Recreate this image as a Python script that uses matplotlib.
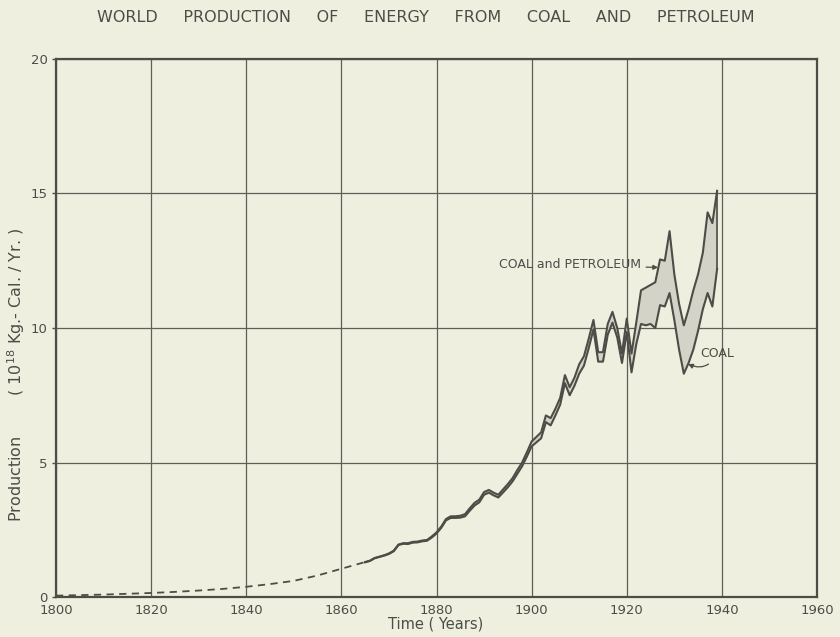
import numpy as np
import matplotlib
matplotlib.use("Agg")
import matplotlib.pyplot as plt

# Early estimates (dashed): combined production, 10^18 kg-cal per year
early_years = [1800, 1805, 1810, 1815, 1820, 1825, 1830, 1835, 1840, 1845,
               1850, 1855, 1860, 1865]
early_prod = [0.05, 0.07, 0.09, 0.12, 0.15, 0.19, 0.24, 0.30, 0.38, 0.48,
              0.60, 0.80, 1.05, 1.30]

# Annual record 1865-1939
years = list(range(1865, 1940))
coal_and_petroleum = [
    1.30, 1.35, 1.45, 1.50, 1.55, 1.62, 1.72, 1.95, 2.00, 2.00,   # 1865-1874
    2.05, 2.06, 2.10, 2.12, 2.25, 2.40, 2.62, 2.90, 3.00, 3.00,   # 1875-1884
    3.02, 3.08, 3.30, 3.50, 3.62, 3.90, 3.98, 3.88, 3.80, 4.00,   # 1885-1894
    4.20, 4.42, 4.72, 5.00, 5.38, 5.78, 5.95, 6.12, 6.75, 6.65,   # 1895-1904
    7.00, 7.40, 8.25, 7.80, 8.15, 8.65, 8.95, 9.60, 10.30, 9.10,  # 1905-1914
    9.10, 10.15, 10.60, 10.00, 9.05, 10.35, 9.05, 10.20, 11.40, 11.50,  # 1915-1924
    11.60, 11.70, 12.55, 12.50, 13.60, 12.00, 10.90, 10.10, 10.70, 11.40,  # 1925-1934
    12.00, 12.80, 14.30, 13.90, 15.10,                            # 1935-1939
]
coal = [
    1.29, 1.34, 1.44, 1.49, 1.54, 1.60, 1.70, 1.93, 1.98, 1.97,   # 1865-1874
    2.02, 2.03, 2.07, 2.09, 2.21, 2.36, 2.57, 2.85, 2.94, 2.94,   # 1875-1884
    2.95, 3.00, 3.21, 3.40, 3.52, 3.80, 3.88, 3.78, 3.70, 3.89,   # 1885-1894
    4.08, 4.30, 4.58, 4.86, 5.22, 5.60, 5.75, 5.90, 6.50, 6.38,   # 1895-1904
    6.75, 7.15, 7.95, 7.50, 7.85, 8.30, 8.60, 9.25, 9.95, 8.75,   # 1905-1914
    8.75, 9.75, 10.20, 9.65, 8.70, 9.85, 8.35, 9.40, 10.15, 10.10,  # 1915-1924
    10.15, 10.00, 10.85, 10.80, 11.30, 10.30, 9.20, 8.30, 8.70, 9.20,  # 1925-1934
    9.90, 10.70, 11.30, 10.80, 12.20,                             # 1935-1939
]

x_ticks = list(range(1800, 1961, 20))
y_ticks = [0, 5, 10, 15, 20]

paper = "#efefdf"
ink = "#4d4d48"

fig = plt.figure(figsize=(8.4, 6.37), dpi=100, facecolor=paper)
ax = fig.add_axes([56 / 840, 1 - 597 / 637, (817 - 56) / 840, (597 - 59) / 637])
ax.set_facecolor(paper)

ax.set_xlim(1800, 1960)
ax.set_ylim(0, 20)
ax.set_xticks(x_ticks)
ax.set_yticks(y_ticks)
ax.set_xticklabels([str(v) for v in x_ticks])
ax.set_yticklabels([str(v) for v in y_ticks])
ax.grid(True, color="#5f5f58", lw=0.9)
ax.set_axisbelow(True)
for s in ax.spines.values():
    s.set_color(ink)
    s.set_linewidth(1.6)
ax.tick_params(axis="y", length=3, width=1, colors=ink, labelsize=9.5, pad=3)
ax.tick_params(axis="x", length=0, colors=ink, labelsize=9.5, pad=5)

# shaded petroleum band between coal and coal+petroleum
ax.fill_between(years, coal, coal_and_petroleum, color="#d3d3c7", lw=0, zorder=2)
ax.plot(early_years, early_prod, color=ink, lw=1.3, ls=(0, (4, 3)), zorder=3)
ax.plot(years, coal_and_petroleum, color=ink, lw=1.5, zorder=3)
ax.plot(years, coal, color=ink, lw=1.5, zorder=3)
# close the band at the last year
ax.plot([years[-1], years[-1]], [coal[-1], coal_and_petroleum[-1]],
        color=ink, lw=1.2, zorder=3)

ax.annotate("COAL and PETROLEUM", xy=(1926.6, 12.25), xytext=(1922.9, 12.35),
            ha="right", va="center", fontsize=9, color=ink,
            arrowprops=dict(arrowstyle="-|>", color=ink, lw=0.9,
                            mutation_scale=7, shrinkA=2, shrinkB=0))
ax.annotate("COAL", xy=(1932.9, 8.66), xytext=(1935.4, 9.07),
            ha="left", va="center", fontsize=9, color=ink,
            arrowprops=dict(arrowstyle="-|>", color=ink, lw=0.9,
                            mutation_scale=7, shrinkA=2, shrinkB=0,
                            connectionstyle="arc3,rad=-0.5"))

fig.text(426 / 840, 1 - 18 / 637,
         "WORLD     PRODUCTION     OF     ENERGY     FROM     COAL     AND     PETROLEUM",
         ha="center", va="center", fontsize=11.5, color=ink)
fig.text(436 / 840, 1 - 624 / 637, "Time ( Years)", ha="center", va="center",
         fontsize=10.5, color=ink)
fig.text(16 / 840, 1 - 375 / 637,
         "Production        ( 10$^{18}$ Kg.- Cal. / Yr. )",
         ha="center", va="center", rotation=90, fontsize=11.5, color=ink)

fig.savefig("out.png", dpi=100, facecolor=paper)
